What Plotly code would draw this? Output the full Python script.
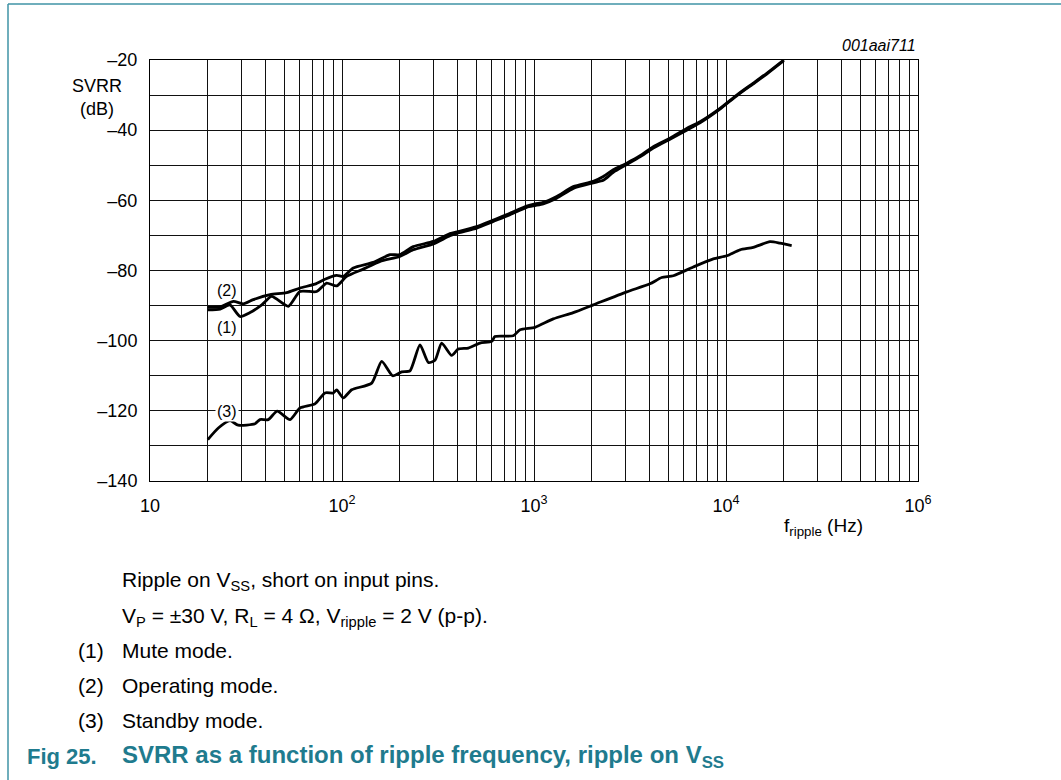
import plotly.graph_objects as go

# curve (2) operating mode
freq_op = [20, 23.2, 27.2, 30.6, 34.5, 42.2, 51.5, 60.4, 72.3, 81.5, 93.8, 101.6,
           114.5, 145.5, 178, 200, 235, 299, 365, 403, 503, 614, 750, 916, 1012,
           1117, 1313, 1602, 2036, 2296, 2588, 3041, 3565, 4181, 5107, 6238, 7325,
           9302, 11370, 13870, 16300, 20000]
svrr_op = [-90.5, -90.4, -88.8, -89.5, -88.3, -86.9, -86.3, -85.0, -83.9, -82.5,
           -81.4, -81.7, -79.3, -77.7, -75.5, -75.5, -73.2, -71.7, -69.5, -68.9,
           -67.5, -65.6, -63.7, -61.6, -61.0, -60.6, -58.9, -56.1, -54.6, -53.2,
           -51.3, -49.4, -47.3, -44.7, -42.3, -39.5, -37.6, -33.8, -30.0, -26.6,
           -23.8, -20.0]

# curve (1) mute mode
freq_mute = [20, 23.2, 26.1, 29.4, 33.2, 38.2, 43.0, 52.5, 60.4, 73.8, 83.2, 93.8,
             105.7, 129, 158, 200, 235, 299, 365, 403, 503, 614, 750, 916, 1012,
             1117, 1313, 1602, 2036, 2296, 2588, 3041, 3565, 4181, 5107, 6238, 7325,
             9302, 11370, 13870, 16300, 20000]
svrr_mute = [-91.2, -91.0, -89.8, -93.1, -92.0, -89.8, -87.4, -90.2, -86.0, -86.0,
             -83.6, -84.4, -81.7, -79.6, -77.4, -76.0, -74.1, -72.4, -70.1, -69.3,
             -67.9, -66.0, -64.1, -62.0, -61.5, -61.0, -59.4, -56.6, -55.0, -54.3,
             -52.0, -49.8, -47.6, -45.1, -42.6, -40.0, -37.9, -34.0, -30.2, -26.8,
             -24.0, -20.2]

# curve (3) standby mode
freq_stby = [20, 22.7, 26.1, 28.8, 35.2, 37.4, 41.3, 46.0, 53.6, 60.4, 72.3, 81.5,
             90.1, 93.8, 101.6, 112.3, 142.8, 161, 183.7, 204.6, 226, 254.8, 281.6,
             305, 330.5, 372.6, 403, 455, 523, 602, 626, 780, 846, 1012, 1260, 1602,
             2036, 3041, 4018, 4624, 5318, 6755, 8590, 10090, 11830, 13870, 16940,
             19100, 21980]
svrr_stby = [-128.2, -124.9, -122.8, -124.1, -123.7, -122.5, -122.5, -120.1, -122.5,
             -119.2, -118.0, -114.9, -114.9, -114.0, -116.3, -114.0, -112.1, -105.9,
             -110.0, -108.9, -108.6, -101.2, -106.2, -105.6, -100.7, -104.2, -102.4,
             -102.1, -100.7, -100.2, -98.8, -98.6, -96.9, -96.2, -93.8, -92.0, -89.8,
             -86.1, -83.8, -82.0, -81.5, -79.0, -76.7, -75.8, -74.1, -73.4, -71.8,
             -72.2, -72.9]

x_major = [10, 100, 1000, 10000, 100000]
x_labels = ["10", "10<sup>2</sup>", "10<sup>3</sup>", "10<sup>4</sup>", "10<sup>6</sup>"]
x_minor = [d * 10 ** k for k in range(1, 5) for d in range(2, 10)]
y_major = list(range(-140, -19, 20))
y_labels = ["\u2013" + str(-v) for v in y_major]
y_minor = list(range(-130, -20, 20))

FONT = "Arial, Liberation Sans, sans-serif"
TEAL = "#1f7b8e"

W, H = 1061, 780
L, R, T, B = 150, 918, 60, 481


def px(x):
    return (x - L) / (R - L)


def py(y):
    return (B - y) / (B - T)


fig = go.Figure()
for f, s in [(freq_op, svrr_op), (freq_mute, svrr_mute), (freq_stby, svrr_stby)]:
    fig.add_trace(go.Scatter(x=f, y=s, mode="lines",
                             line=dict(color="black", width=2.8, shape="spline", smoothing=0.6),
                             showlegend=False, hoverinfo="skip"))

grid = dict(showgrid=True, gridcolor="#111", gridwidth=1)
fig.update_xaxes(type="log", range=[1, 5], tickvals=x_major, ticktext=x_labels,
                 minor=dict(tickvals=x_minor, **grid), **grid,
                 showline=True, mirror=True, linecolor="black", linewidth=1,
                 ticks="", ticklabelstandoff=8, zeroline=False,
                 tickfont=dict(family=FONT, size=18, color="black"))
fig.update_yaxes(range=[-140, -20], tickvals=y_major, ticktext=y_labels,
                 minor=dict(tickvals=y_minor, **grid), **grid,
                 showline=True, mirror=True, linecolor="black", linewidth=1,
                 ticks="", ticklabelstandoff=8, zeroline=False,
                 tickfont=dict(family=FONT, size=18, color="black"))

ann = []


def text(x, y, s, size=18, anchor="left", **kw):
    ann.append(dict(x=px(x), y=py(y), xref="paper", yref="paper", text=s, showarrow=False,
                    xanchor=anchor, yanchor="middle",
                    font=dict(family=FONT, size=size, color=kw.pop("color", "black")), **kw))


text(97, 98, "SVRR<br>(dB)", anchor="center")
text(918, 45, "<i>001aai711</i>", size=16, anchor="right")
text(782, 527, "f<sub>ripple</sub> (Hz)", size=19)
text(227, 290, "(2)", size=16, anchor="center")
text(227, 327, "(1)", size=16, anchor="center")
text(227, 411, "(3)", size=16, anchor="center", bgcolor="white")

text(120, 581, "Ripple on V<sub>SS</sub>, short on input pins.", size=21)
text(120, 617, "V<sub>P</sub> = \u00b130 V, R<sub>L</sub> = 4 \u03a9, V<sub>ripple</sub> = 2 V (p-p).", size=21)
for i, (num, lab) in enumerate([("(1)", "Mute mode."), ("(2)", "Operating mode."),
                                ("(3)", "Standby mode.")]):
    text(76, 650 + 35 * i, num, size=21)
    text(120, 650 + 35 * i, lab, size=21)
text(25, 756, "<b>Fig 25.</b>", size=22, color=TEAL)
text(120, 756, "<b>SVRR as a function of ripple frequency, ripple on V<sub>SS</sub></b>",
     size=24, color=TEAL)

shapes = [
    dict(type="line", xref="paper", yref="paper", x0=px(8), x1=px(1061), y0=py(4), y1=py(4),
         line=dict(color="#3f93a6", width=1.5)),
    dict(type="line", xref="paper", yref="paper", x0=px(8), x1=px(8), y0=py(4), y1=py(780),
         line=dict(color="#3f93a6", width=1.5)),
]

fig.update_layout(width=W, height=H, margin=dict(l=L, r=W - R, t=T, b=H - B),
                  plot_bgcolor="white", paper_bgcolor="white",
                  annotations=ann, shapes=shapes)

fig.write_html("out.html", config={"displayModeBar": False},
               post_script="document.body.style.margin='0';")
